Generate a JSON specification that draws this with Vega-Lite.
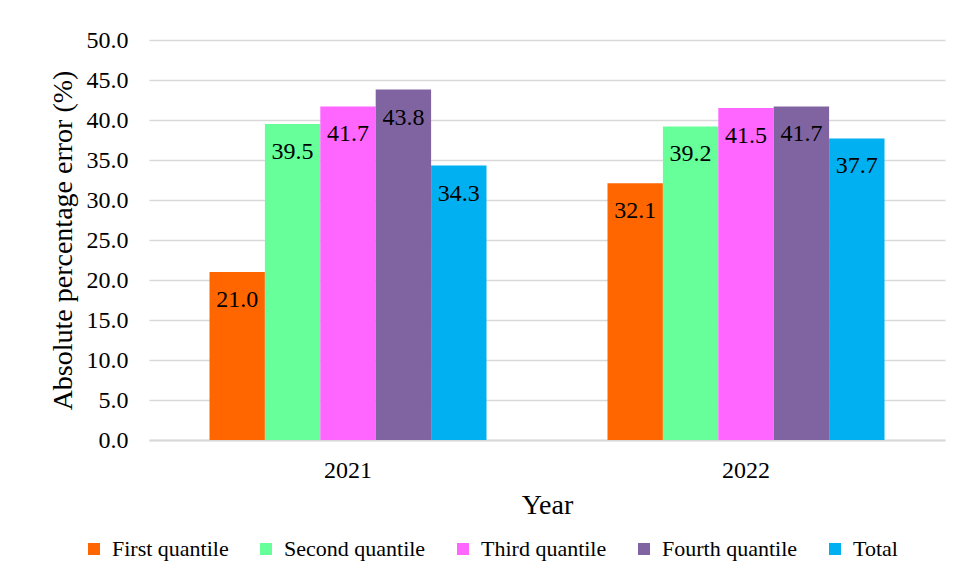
{
  "$schema": "https://vega.github.io/schema/vega-lite/v6.json",
  "width": 796,
  "height": 400,
  "autosize": {"type": "none"},
  "padding": {"left": 149, "top": 40, "right": 14, "bottom": 141},
  "background": "white",
  "config": {
    "font": "Liberation Serif",
    "view": {"stroke": null},
    "axis": {"labelFont": "Liberation Serif", "titleFont": "Liberation Serif", "labelColor": "#000", "titleColor": "#000", "titleFontWeight": "normal"},
    "legend": {"labelFont": "Liberation Serif", "labelColor": "#000"}
  },
  "data": {
    "values": [
      {"year": "2021", "group": "First quantile", "value": 21.0},
      {"year": "2021", "group": "Second quantile", "value": 39.5},
      {"year": "2021", "group": "Third quantile", "value": 41.7},
      {"year": "2021", "group": "Fourth quantile", "value": 43.8},
      {"year": "2021", "group": "Total", "value": 34.3},
      {"year": "2022", "group": "First quantile", "value": 32.1},
      {"year": "2022", "group": "Second quantile", "value": 39.2},
      {"year": "2022", "group": "Third quantile", "value": 41.5},
      {"year": "2022", "group": "Fourth quantile", "value": 41.7},
      {"year": "2022", "group": "Total", "value": 37.7}
    ]
  },
  "encoding": {
    "x": {
      "field": "year", "type": "nominal", "title": "Year",
      "scale": {"paddingInner": 0.304, "paddingOuter": 0.152},
      "axis": {"labelAngle": 0, "labelFontSize": 24, "titleFontSize": 28, "tickSize": 0, "labelPadding": 18, "titlePadding": 9, "domainColor": "#d9d9d9", "domainWidth": 2, "grid": false}
    },
    "xOffset": {"field": "group", "type": "nominal", "sort": ["First quantile", "Second quantile", "Third quantile", "Fourth quantile", "Total"], "scale": {"paddingInner": 0, "paddingOuter": 0}},
    "y": {
      "field": "value", "type": "quantitative", "title": "Absolute percentage error (%)",
      "scale": {"domain": [0, 50], "nice": false},
      "axis": {"values": [0, 5, 10, 15, 20, 25, 30, 35, 40, 45, 50], "format": ".1f", "labelFontSize": 24, "titleFontSize": 28, "tickSize": 0, "labelPadding": 21, "titlePadding": 9, "domain": false, "gridColor": "#d9d9d9", "gridWidth": 1.5}
    }
  },
  "layer": [
    {
      "mark": {"type": "bar"},
      "encoding": {
        "color": {
          "field": "group", "type": "nominal", "title": null,
          "sort": ["First quantile", "Second quantile", "Third quantile", "Fourth quantile", "Total"],
          "scale": {"domain": ["First quantile", "Second quantile", "Third quantile", "Fourth quantile", "Total"], "range": ["#FF6600", "#66FF99", "#FF66FF", "#8064A2", "#00B0F0"]},
          "legend": {"orient": "none", "legendX": -66, "legendY": 498, "direction": "horizontal", "columns": 5, "labelFontSize": 22, "symbolType": "square", "symbolSize": 144, "symbolStrokeWidth": 0, "labelOffset": 7, "columnPadding": 26}
        }
      }
    },
    {
      "mark": {"type": "text", "baseline": "top", "dy": 16, "fontSize": 24, "color": "#000"},
      "encoding": {"text": {"field": "value", "type": "quantitative", "format": ".1f"}}
    }
  ]
}
